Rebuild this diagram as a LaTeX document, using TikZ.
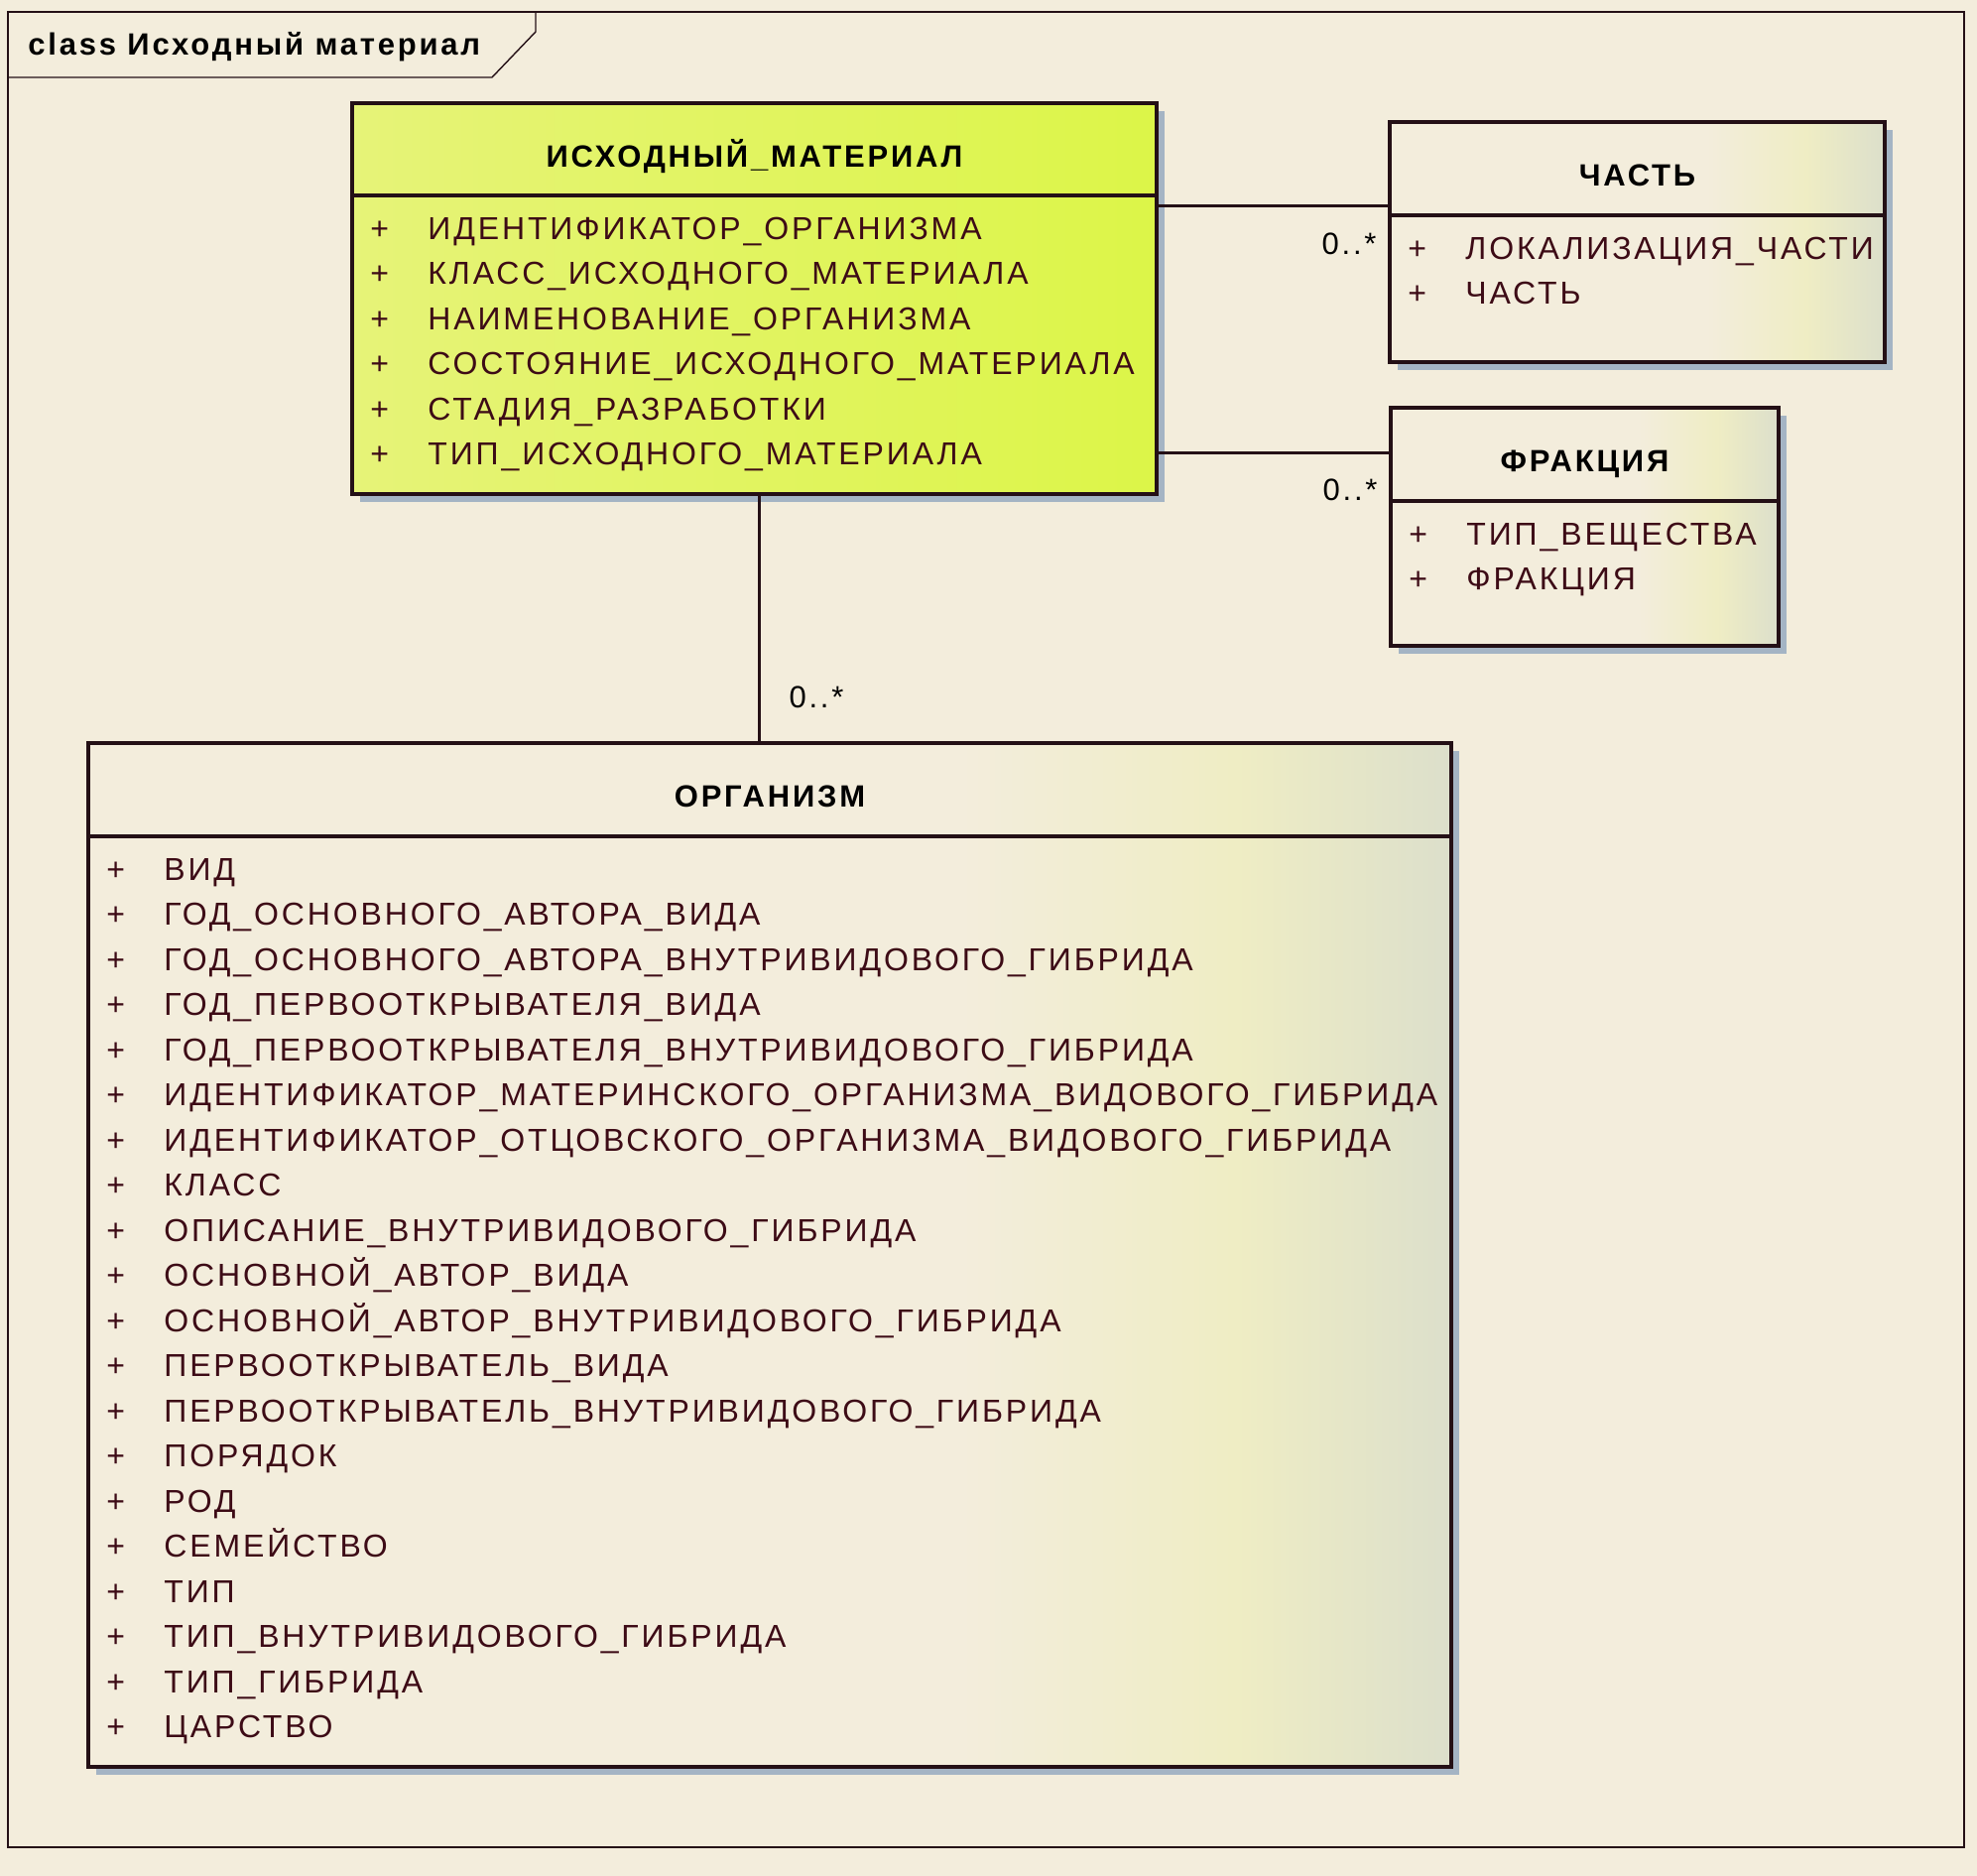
\documentclass[tikz,border=0pt]{standalone}
\usepackage{fontspec}
\setmainfont{Liberation Sans}[LetterSpace=9]
\usetikzlibrary{positioning, shadows}

\definecolor{bgcream}{HTML}{F3EDDC}
\definecolor{boxline}{HTML}{241016}
\definecolor{attrtext}{HTML}{3D0B16}
\definecolor{shadowblue}{HTML}{A4B4C4}
\definecolor{imlight}{HTML}{E6F378}
\definecolor{imlime}{HTML}{DCF548}
\definecolor{fadeyellow}{HTML}{EFEDC4}
\definecolor{fadegray}{HTML}{DCDFCB}

\pgfdeclarehorizontalshading{creamfade}{100bp}{color(0bp)=(bgcream); color(25bp)=(bgcream); color(57bp)=(bgcream); color(67bp)=(fadeyellow); color(75bp)=(fadegray); color(100bp)=(fadegray)}

\begin{document}
\begin{tikzpicture}[
        x=0.5pt, y=-0.5pt,
        frameline/.style={draw=boxline, line width=0.7pt},
        hdr/.style={rectangle, draw=boxline, line width=2pt, outer sep=0pt, inner sep=0pt, text height=17.5pt, text depth=0pt, text=black, font=\bfseries\fontsize{15.5}{18}\selectfont, drop shadow={shadow xshift=4pt, shadow yshift=-4pt, fill=shadowblue, opacity=1, draw=none}},
        bodybox/.style={rectangle, draw=boxline, line width=2pt, outer sep=0pt, inner sep=0pt, drop shadow={shadow xshift=4pt, shadow yshift=-4pt, fill=shadowblue, opacity=1, draw=none}},
        attrs/.style={anchor=north west, inner sep=0pt, text=attrtext, font=\fontsize{16}{22.75}\selectfont},
        lime/.style={left color=imlight, right color=imlime},
        cream/.style={shading=creamfade},
        assoc/.style={draw=boxline, line width=1.5pt},
        mult/.style={inner sep=0pt, text=black, font=\fontsize{15.5}{18}\selectfont}
    ]
    % background and frame
    \fill[bgcream] (0,0) rectangle (1993,1891);
    \useasboundingbox (0,0) rectangle (1993,1891);
    \draw[frameline] (8,12) rectangle (1980,1862);
    \draw[frameline] (8,78) -- (496,78) -- (540,32) -- (540,12);
    \node[anchor=base west, inner sep=0pt, font=\bfseries\fontsize{15.5}{17}\selectfont] (frametitle) at (28,55) {class Исходный материал};

    % ИСХОДНЫЙ_МАТЕРИАЛ
    \node[hdr, lime, anchor=north west, minimum width=405.5pt, minimum height=46.5pt] (imhead) at (355,104) {ИСХОДНЫЙ\_МАТЕРИАЛ};
    \node[bodybox, lime, below=0pt of imhead, minimum width=405.5pt, minimum height=150.5pt] (imbody) {};
    \node[attrs] (imattrs) at ([xshift=9pt, yshift=-6pt]imbody.north west) {%
        \begin{tabular}{@{}p{29pt}@{}l@{}}
        + & ИДЕНТИФИКАТОР\_ОРГАНИЗМА \\
        + & КЛАСС\_ИСХОДНОГО\_МАТЕРИАЛА \\
        + & НАИМЕНОВАНИЕ\_ОРГАНИЗМА \\
        + & СОСТОЯНИЕ\_ИСХОДНОГО\_МАТЕРИАЛА \\
        + & СТАДИЯ\_РАЗРАБОТКИ \\
        + & ТИП\_ИСХОДНОГО\_МАТЕРИАЛА
        \end{tabular}};

    % ЧАСТЬ
    \node[hdr, cream, anchor=north west, minimum width=249.5pt, minimum height=47pt] (chhead) at (1401,123) {ЧАСТЬ};
    \node[bodybox, cream, below=0pt of chhead, minimum width=249.5pt, minimum height=74pt] (chbody) {};
    \node[attrs] (chattrs) at ([xshift=9pt, yshift=-6pt]chbody.north west) {%
        \begin{tabular}{@{}p{29pt}@{}l@{}}
        + & ЛОКАЛИЗАЦИЯ\_ЧАСТИ \\
        + & ЧАСТЬ
        \end{tabular}};

    % ФРАКЦИЯ
    \node[hdr, cream, anchor=north west, minimum width=195.5pt, minimum height=47pt] (frhead) at (1402,411) {ФРАКЦИЯ};
    \node[bodybox, cream, below=0pt of frhead, minimum width=195.5pt, minimum height=73pt] (frbody) {};
    \node[attrs] (frattrs) at ([xshift=9pt, yshift=-6pt]frbody.north west) {%
        \begin{tabular}{@{}p{29pt}@{}l@{}}
        + & ТИП\_ВЕЩЕСТВА \\
        + & ФРАКЦИЯ
        \end{tabular}};

    % ОРГАНИЗМ
    \node[hdr, cream, anchor=north west, minimum width=687pt, minimum height=47pt] (orghead) at (89,749) {ОРГАНИЗМ};
    \node[bodybox, cream, below=0pt of orghead, minimum width=687pt, minimum height=469pt] (orgbody) {};
    \node[attrs] (orgattrs) at ([xshift=9pt, yshift=-6pt]orgbody.north west) {%
        \begin{tabular}{@{}p{29pt}@{}l@{}}
        + & ВИД \\
        + & ГОД\_ОСНОВНОГО\_АВТОРА\_ВИДА \\
        + & ГОД\_ОСНОВНОГО\_АВТОРА\_ВНУТРИВИДОВОГО\_ГИБРИДА \\
        + & ГОД\_ПЕРВООТКРЫВАТЕЛЯ\_ВИДА \\
        + & ГОД\_ПЕРВООТКРЫВАТЕЛЯ\_ВНУТРИВИДОВОГО\_ГИБРИДА \\
        + & ИДЕНТИФИКАТОР\_МАТЕРИНСКОГО\_ОРГАНИЗМА\_ВИДОВОГО\_ГИБРИДА \\
        + & ИДЕНТИФИКАТОР\_ОТЦОВСКОГО\_ОРГАНИЗМА\_ВИДОВОГО\_ГИБРИДА \\
        + & КЛАСС \\
        + & ОПИСАНИЕ\_ВНУТРИВИДОВОГО\_ГИБРИДА \\
        + & ОСНОВНОЙ\_АВТОР\_ВИДА \\
        + & ОСНОВНОЙ\_АВТОР\_ВНУТРИВИДОВОГО\_ГИБРИДА \\
        + & ПЕРВООТКРЫВАТЕЛЬ\_ВИДА \\
        + & ПЕРВООТКРЫВАТЕЛЬ\_ВНУТРИВИДОВОГО\_ГИБРИДА \\
        + & ПОРЯДОК \\
        + & РОД \\
        + & СЕМЕЙСТВО \\
        + & ТИП \\
        + & ТИП\_ВНУТРИВИДОВОГО\_ГИБРИДА \\
        + & ТИП\_ГИБРИДА \\
        + & ЦАРСТВО
        \end{tabular}};

    % associations
    \path[assoc] ([yshift=-5pt]imbody.north east) -- ([yshift=-5pt]imbody.north east -| chhead.west)
        node[mult, anchor=north east, xshift=-6pt, yshift=-13pt] (chmult) {0..*};
    \path[assoc] ([yshift=21pt]imbody.south east) -- ([yshift=21pt]imbody.south east -| frhead.west)
        node[mult, anchor=north east, xshift=-6pt, yshift=-12.5pt] (frmult) {0..*};
    \path[assoc] ([xshift=2.25pt]imbody.south) -- ([xshift=2.25pt]imbody.south |- orghead.north)
        node[mult, anchor=south west, xshift=14.5pt, yshift=17pt] (orgmult) {0..*};
\end{tikzpicture}
\end{document}
